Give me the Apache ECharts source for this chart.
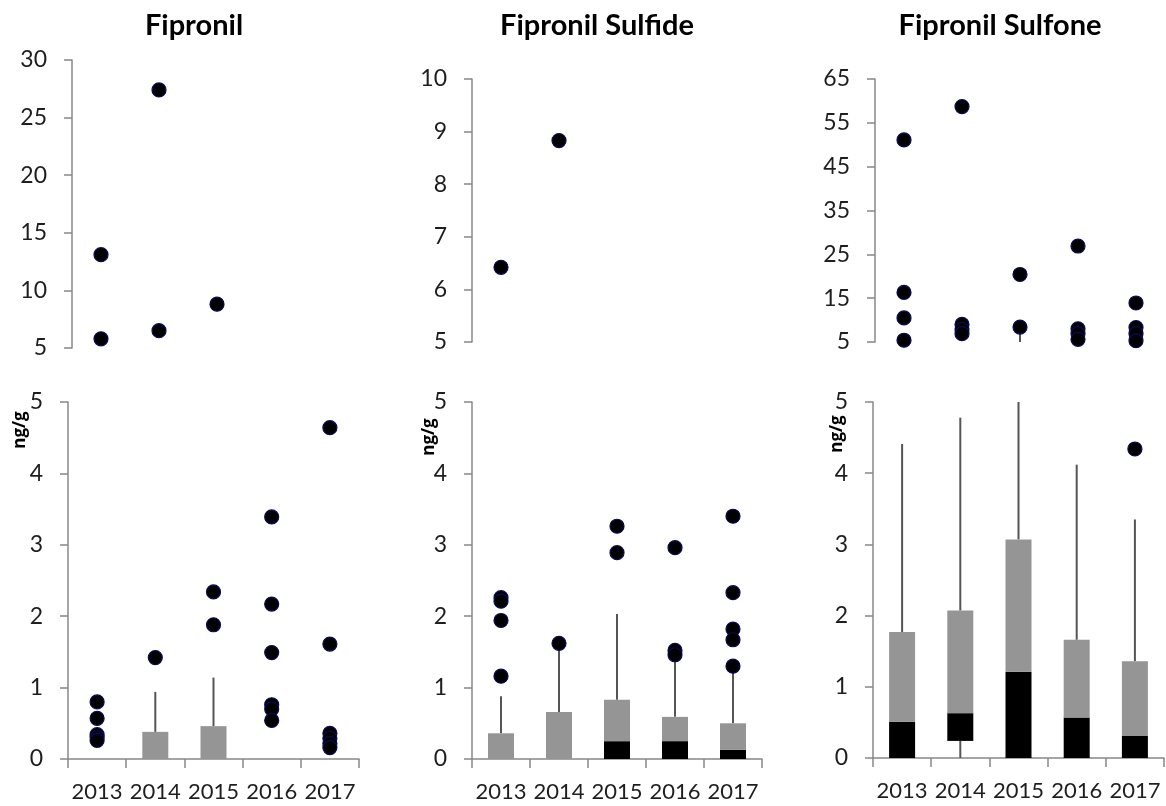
<!DOCTYPE html>
<html>
<head>
<meta charset="utf-8">
<script src="https://cdn.jsdelivr.net/npm/echarts@6/dist/echarts.min.js"></script>
<style>
html,body{margin:0;padding:0;background:#fff;}
#chart{width:1166px;height:806px;}
</style>
</head>
<body>
<div id="chart"></div>
<script>
// ---- data ----
const years = ['2013', '2014', '2015', '2016', '2017'];
const titles = ['Fipronil', 'Fipronil Sulfide', 'Fipronil Sulfone'];
const yUnit = 'ng/g';

// box statistics per year (null = no box)
const fipQ1  = [null, 0, 0, null, null];
const fipMed = [null, 0, 0, null, null];
const fipQ3  = [null, 0.38, 0.46, null, null];
const fipLo  = [null, 0, 0, null, null];
const fipHi  = [null, 0.94, 1.14, null, null];

const sulfidQ1  = [0, 0, 0, 0, 0];
const sulfidMed = [0, 0, 0.25, 0.25, 0.13];
const sulfidQ3  = [0.36, 0.66, 0.83, 0.59, 0.50];
const sulfidLo  = [0, 0, 0, 0, 0];
const sulfidHi  = [0.88, 1.56, 2.03, 1.42, 1.22];

const sulfonQ1  = [0, 0.24, 0, 0, 0];
const sulfonMed = [0.51, 0.63, 1.21, 0.57, 0.31];
const sulfonQ3  = [1.77, 2.07, 3.07, 1.66, 1.36];
const sulfonLo  = [0, 0, 0, 0, 0];
const sulfonHi  = [4.41, 4.78, 7.0, 4.12, 3.35];

// outlier points per year
const fipPoints = [
  [13.1, 5.8, 0.80, 0.57, 0.34, 0.30, 0.26],
  [27.4, 6.5, 1.42],
  [8.8, 2.34, 1.88],
  [3.39, 2.17, 1.49, 0.76, 0.70, 0.54],
  [4.64, 1.61, 0.36, 0.29, 0.22, 0.16]
];
const sulfidPoints = [
  [6.42, 2.26, 2.21, 1.94, 1.16],
  [8.83, 1.62],
  [3.26, 2.89],
  [2.96, 1.52, 1.46],
  [3.40, 2.33, 1.82, 1.67, 1.30]
];
const sulfonPoints = [
  [51.1, 16.3, 10.5, 5.4],
  [58.7, 9.0, 7.9, 6.9],
  [20.4, 8.4],
  [26.9, 8.0, 6.9, 5.6],
  [13.9, 8.3, 6.9, 5.3, 4.34]
];

// axis ranges
const upperMin = [5, 5, 5];
const upperMax = [30, 10, 65];
const upperInterval = [5, 1, 10];
const lowerMin = 0, lowerMax = 5, lowerInterval = 1;

// ---- build ----
const compounds = [
  {q1: fipQ1, med: fipMed, q3: fipQ3, lo: fipLo, hi: fipHi, pts: fipPoints},
  {q1: sulfidQ1, med: sulfidMed, q3: sulfidQ3, lo: sulfidLo, hi: sulfidHi, pts: sulfidPoints},
  {q1: sulfonQ1, med: sulfonMed, q3: sulfonQ3, lo: sulfonLo, hi: sulfonHi, pts: sulfonPoints}
];

const FONT = 'Lato';
const axisColor = '#888888';
const labelColor = '#1e1e1e';

const lowerGrids = [
  {left: 68, top: 402, width: 291, height: 357},
  {left: 472, top: 402, width: 290, height: 357},
  {left: 873, top: 402, width: 291, height: 356}
];
const upperGrids = [
  {left: 72, top: 60, width: 290, height: 288},
  {left: 472, top: 79, width: 290, height: 263},
  {left: 875, top: 79, width: 290, height: 263}
];

const grid = [], xAxis = [], yAxis = [], series = [];

function boxRender(params, api) {
  const i = api.value(0);
  const q1 = api.value(1), med = api.value(2), q3 = api.value(3), lo = api.value(4), hi = api.value(5);
  const bw = 26;
  const children = [];
  const pQ1 = api.coord([i, q1]), pMed = api.coord([i, med]), pQ3 = api.coord([i, q3]);
  const pLo = api.coord([i, lo]), pHi = api.coord([i, hi]);
  const x = pQ1[0];
  if (hi > q3) children.push({type: 'line', shape: {x1: x, y1: pQ3[1], x2: x, y2: pHi[1]}, style: {stroke: '#555555', lineWidth: 2}});
  if (lo < q1) children.push({type: 'line', shape: {x1: x, y1: pLo[1], x2: x, y2: pQ1[1]}, style: {stroke: '#555555', lineWidth: 2}});
  if (med > q1) children.push({type: 'rect', shape: {x: x - bw / 2, y: pMed[1], width: bw, height: pQ1[1] - pMed[1]}, style: {fill: '#000000'}});
  if (q3 > med) children.push({type: 'rect', shape: {x: x - bw / 2, y: pQ3[1], width: bw, height: pMed[1] - pQ3[1]}, style: {fill: '#959595'}});
  return {type: 'group', children: children};
}

compounds.forEach((c, k) => {
  const boxData = [];
  for (let i = 0; i < years.length; i++) {
    if (c.q3[i] === null) continue;
    boxData.push([i, c.q1[i], c.med[i], c.q3[i], c.lo[i], c.hi[i]]);
  }
  const upperPts = [], lowerPts = [];
  c.pts.forEach((arr, i) => arr.forEach(v => {
    if (v > lowerMax) upperPts.push([i, v]); else lowerPts.push([i, v]);
  }));

  // lower panel
  const gl = grid.length;
  grid.push(lowerGrids[k]);
  xAxis.push({
    type: 'category', gridIndex: gl, data: years, boundaryGap: true,
    axisLine: {show: true, lineStyle: {color: axisColor, width: 1.5}},
    axisTick: {show: true, length: 9, interval: 0, lineStyle: {color: axisColor, width: 1.5}},
    axisLabel: {show: true, interval: 0, margin: 22, fontSize: 22, fontFamily: FONT, color: labelColor},
    splitLine: {show: false}
  });
  yAxis.push({
    type: 'value', gridIndex: gl, min: lowerMin, max: lowerMax, interval: lowerInterval,
    axisLine: {show: true, lineStyle: {color: axisColor, width: 1.5}},
    axisTick: {show: true, length: 8, lineStyle: {color: axisColor, width: 1.5}},
    axisLabel: {show: true, margin: 25, fontSize: 23, fontFamily: FONT, color: labelColor},
    splitLine: {show: false}
  });
  series.push({
    type: 'custom', xAxisIndex: gl, yAxisIndex: gl, renderItem: boxRender, clip: true,
    data: boxData, encode: {x: 0, y: [1, 2, 3, 4, 5]}, z: 2
  });
  series.push({
    type: 'scatter', xAxisIndex: gl, yAxisIndex: gl, data: lowerPts, symbolSize: 14,
    itemStyle: {color: '#000000', borderColor: '#0a0a55', borderWidth: 1.2, opacity: 1}, z: 3
  });

  // upper panel
  const gu = grid.length;
  grid.push(upperGrids[k]);
  xAxis.push({
    type: 'category', gridIndex: gu, data: years, boundaryGap: true,
    axisLine: {show: false}, axisTick: {show: false}, axisLabel: {show: false}, splitLine: {show: false}
  });
  yAxis.push({
    type: 'value', gridIndex: gu, min: upperMin[k], max: upperMax[k], interval: upperInterval[k],
    axisLine: {show: true, lineStyle: {color: axisColor, width: 1.5}},
    axisTick: {show: true, length: 8, lineStyle: {color: axisColor, width: 1.5}},
    axisLabel: {show: true, margin: 25, fontSize: 23, fontFamily: FONT, color: labelColor},
    splitLine: {show: false}
  });
  series.push({
    type: 'custom', xAxisIndex: gu, yAxisIndex: gu, renderItem: boxRender, clip: true,
    data: boxData, encode: {x: 0, y: [1, 2, 3, 4, 5]}, z: 2
  });
  series.push({
    type: 'scatter', xAxisIndex: gu, yAxisIndex: gu, data: upperPts, symbolSize: 14,
    itemStyle: {color: '#000000', borderColor: '#0a0a55', borderWidth: 1.2, opacity: 1}, z: 3
  });
});

const titleX = [194, 597, 1000];
const unitPos = [[20, 430], [429, 437], [837, 434]];
const graphic = [];
titles.forEach((t, k) => {
  graphic.push({type: 'text', x: titleX[k], y: 26, style: {text: t, fontFamily: FONT, fontWeight: 'bold', fontSize: 29, fill: '#000', textAlign: 'center', textVerticalAlign: 'middle'}});
  graphic.push({type: 'text', x: unitPos[k][0], y: unitPos[k][1], rotation: Math.PI / 2,
    style: {text: yUnit, fontFamily: 'Open Sans', fontWeight: 'bold', fontSize: 17, fill: '#000', textAlign: 'center', textVerticalAlign: 'middle'}});
});

const chart = echarts.init(document.getElementById('chart'), null, {renderer: 'canvas'});
chart.setOption({
  backgroundColor: '#ffffff',
  animation: false,
  grid: grid, xAxis: xAxis, yAxis: yAxis, series: series, graphic: graphic
});
</script>
</body>
</html>
